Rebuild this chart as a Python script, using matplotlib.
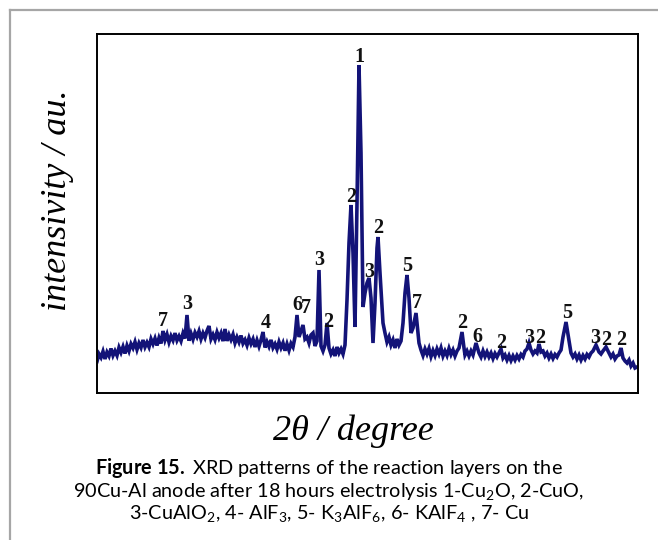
import matplotlib
matplotlib.use("Agg")
import matplotlib.pyplot as plt
from matplotlib.lines import Line2D

plt.rcParams['mathtext.fontset'] = 'custom'
plt.rcParams['mathtext.rm'] = 'Lato'
plt.rcParams['mathtext.it'] = 'Lato:italic'
plt.rcParams['mathtext.bf'] = 'Lato:bold'

# ---- XRD pattern (2theta in degree, intensity in a.u.) ----
# low-angle region (broad hump)
theta_low = [
    10.00, 10.25, 10.50, 10.75, 11.00, 11.25, 11.50, 11.75, 12.00, 12.25, 12.50, 12.75,
    13.00, 13.25, 13.50, 13.75, 14.00, 14.25, 14.50, 14.75, 15.00, 15.25, 15.50, 15.75,
    16.00, 16.25, 16.50, 16.75, 17.00, 17.25, 17.50, 17.75, 18.00, 18.25, 18.50, 18.75,
    19.00, 19.25, 19.50, 19.75, 20.00, 20.25, 20.50, 20.75, 21.00, 21.25, 21.50, 21.75,
    22.00, 22.25, 22.50, 22.75, 23.00, 23.25, 23.50, 23.75, 24.00, 24.25, 24.50, 24.75,
    25.00, 25.25, 25.50, 25.75, 26.00, 26.25, 26.50, 26.75, 27.00, 27.25, 27.50, 27.75,
    28.00, 28.25, 28.50, 28.75, 29.00, 29.25, 29.50, 29.75, 30.00, 30.25, 30.50, 30.75,
    31.00, 31.25, 31.50, 31.75, 32.00, 32.25, 32.50, 32.75, 33.00, 33.25, 33.50, 33.75,
    34.00, 34.25, 34.50,
]
int_low = [
    315, 390, 355, 415, 340, 408, 370, 445, 375, 420, 375, 455,
    405, 462, 395, 473, 420, 490, 450, 510, 435, 498, 455, 530,
    460, 505, 460, 540, 490, 545, 475, 550, 495, 620, 530, 586,
    508, 570, 527, 599, 526, 568, 520, 597, 545, 780, 523, 595,
    537, 604, 561, 618, 540, 599, 553, 622, 670, 540, 584, 533,
    607, 550, 598, 519, 640, 521, 582, 533, 585, 501, 558, 509,
    575, 496, 532, 478, 550, 492, 538, 460, 527, 466, 530, 610,
    455, 512, 465, 531, 453, 490, 438, 510, 452, 500, 423, 490,
    427, 495, 460,
]
# main peak cluster
theta_mid = [
    34.75, 35.0, 35.25, 35.5, 35.75, 36.0, 36.25, 36.5, 36.75, 37.0, 37.25, 37.5, 37.75,
    38.0, 38.25, 38.5, 38.75, 39.0, 39.25, 39.5, 39.75, 40.0, 40.25, 40.5, 40.75, 41.0,
    41.25, 41.5, 41.75, 42.0, 42.25, 42.5, 42.75, 43.0, 43.25, 43.5, 43.75, 44.0, 44.25,
    44.5, 44.75, 45.0, 45.125, 45.375, 45.75, 46.0, 46.25, 46.5, 46.75, 47.0, 47.25, 47.5,
    47.75, 48.0, 48.25, 48.5, 48.75, 49.0, 49.25, 49.5, 49.875,
]
int_mid = [
    560, 780, 560, 620, 680, 540, 560, 500, 580, 600, 470, 520, 1230,
    470, 420, 480, 700, 450, 390, 430, 370, 460, 400, 440, 390, 480,
    930, 1500, 1880, 1400, 660, 1900, 3280, 2400, 860, 1000, 1100, 1150, 950,
    500, 900, 1450, 1560, 1200, 700, 600, 510, 560, 480, 530, 450, 540,
    480, 520, 700, 1000, 1180, 950, 600, 650, 800,
]
# high-angle region
theta_high = [
    50.25, 50.50, 50.75, 51.00, 51.25, 51.50, 51.75, 52.00, 52.25, 52.50, 52.75, 53.00,
    53.25, 53.50, 53.75, 54.00, 54.25, 54.50, 54.75, 55.00, 55.25, 55.625, 55.875, 56.00,
    56.25, 56.50, 56.75, 57.00, 57.375, 57.75, 58.00, 58.25, 58.50, 58.75, 59.00, 59.25,
    59.50, 59.75, 60.00, 60.25, 60.50, 60.75, 61.00, 61.25, 61.50, 61.75, 62.00, 62.25,
    62.50, 62.75, 63.00, 63.25, 63.50, 63.75, 64.00, 64.25, 64.50, 64.75, 65.00, 65.25,
    65.50, 65.75, 66.00, 66.25, 66.50, 66.75, 67.00, 67.25, 67.50, 67.75, 68.00, 68.25,
    68.625, 69.00, 69.25, 69.50, 69.75, 70.00, 70.25, 70.50, 70.75, 71.00, 71.25, 71.50,
    71.75, 72.00, 72.375, 72.75, 73.00, 73.25, 73.625, 74.00, 74.25, 74.50, 74.75, 75.00,
    75.25, 75.50, 75.75, 76.00, 76.25, 76.50, 76.75, 77.00, 77.25, 77.625,
]
int_high = [
    500, 430, 375, 440, 390, 445, 365, 425, 375, 440, 390, 450,
    370, 420, 375, 445, 385, 430, 370, 420, 450, 610, 450, 380,
    420, 370, 420, 380, 500, 400, 360, 420, 365, 410, 360, 400,
    345, 395, 360, 400, 440, 350, 380, 330, 375, 325, 370, 330,
    375, 340, 385, 360, 420, 440, 500, 430, 390, 420, 400, 490,
    410, 420, 370, 400, 350, 390, 345, 385, 360, 400, 430, 560,
    710, 520, 400, 360, 390, 340, 380, 330, 375, 340, 385, 360,
    400, 420, 480, 410, 390, 420, 460, 400, 360, 390, 340, 370,
    380, 450, 350, 320, 300, 330, 270, 300, 250, 265,
]
two_theta = theta_low + theta_mid + theta_high
intensity = int_low + int_mid + int_high

# ---- phase labels: text, 2theta, intensity ----
label_text = ["7", "3", "4", "6", "7", "3", "2", "2", "1", "3", "2", "5", "7",
              "2", "6", "2", "3", "2", "5", "3", "2", "2"]
label_x = [18.25, 21.25, 31.125, 35.0, 36.125, 37.75, 38.875, 41.75, 42.75, 44.0,
           45.125, 48.75, 50.0, 55.625, 57.5, 60.5, 64.0, 65.375, 68.75, 72.25,
           73.625, 75.5]
label_y = [720, 890, 700, 880, 850, 1330, 710, 1960, 3360, 1210, 1650, 1270, 900,
           700, 560, 500, 550, 550, 800, 550, 530, 530]

x_label = "2θ / degree"
y_label = "intensivity / au."
caption = [
    r"$\mathbf{Figure\ 15.}$ XRD patterns of the reaction layers on the",
    r"90Cu-Al anode after 18 hours electrolysis 1-Cu$_2$O, 2-CuO,",
    r"3-CuAlO$_2$, 4- AlF$_3$, 5- K$_3$AlF$_6$, 6- KAlF$_4$ , 7- Cu",
]

fig = plt.figure(figsize=(6.58, 5.40), dpi=100)
ax = fig.add_axes([97 / 658, 1 - 393 / 540, 541 / 658, 359 / 540])
ax.plot(two_theta, intensity, color="#131378", lw=2.6, solid_joinstyle="miter")
ax.set_xlim(10, 77.625)
ax.set_ylim(0, 3590)
ax.set_xticks([])
ax.set_yticks([])
for s in ax.spines.values():
    s.set_linewidth(1.4)
    s.set_color("black")

for t, x, y in zip(label_text, label_x, label_y):
    ax.text(x, y, t, ha="center", va="center", fontsize=14.5, fontweight="bold",
            family="Liberation Serif", color="#111111")

fig.text(58 / 658, 1 - 200 / 540, y_label, rotation=90, ha="center", va="center",
         fontsize=26, style="italic", family="Liberation Serif")
fig.text(353 / 658, 1 - 431 / 540, x_label, ha="center", va="center",
         fontsize=26, style="italic", family="Liberation Serif")

for i, line in enumerate(caption):
    fig.text(0.5, 1 - (468 + 23 * i) / 540, line, ha="center", va="center",
             fontsize=14.3, family="Lato")

# outer frame (left and top border)
fig.add_artist(Line2D([10 / 658, 10 / 658], [0, 1 - 10 / 540], transform=fig.transFigure,
                      color="#a6a6a6", lw=1.6))
fig.add_artist(Line2D([10 / 658, 1], [1 - 10 / 540, 1 - 10 / 540], transform=fig.transFigure,
                      color="#a6a6a6", lw=1.6))

fig.savefig("out.png", dpi=100)
